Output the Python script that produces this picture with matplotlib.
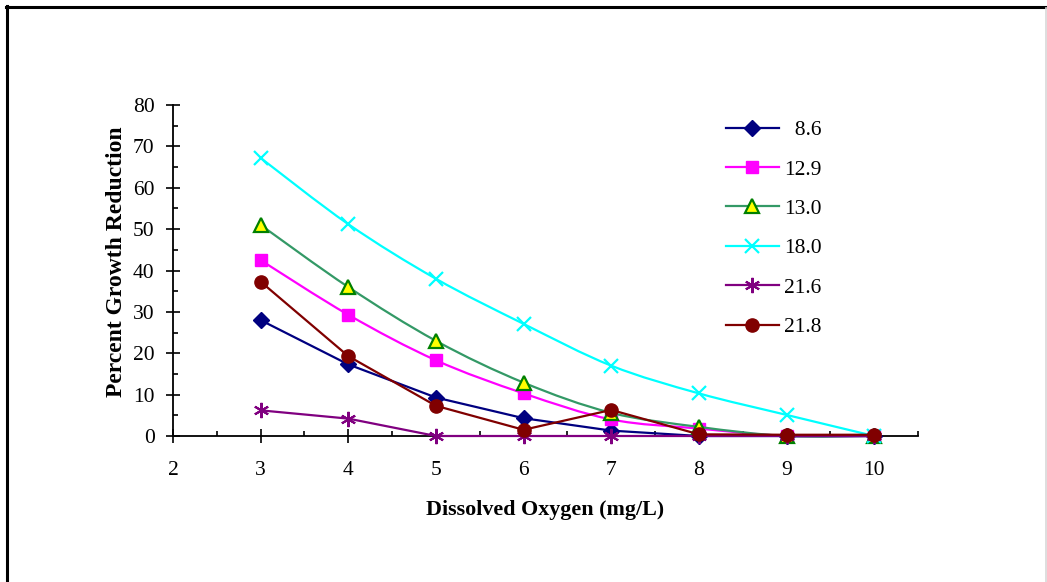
import numpy as np
import matplotlib
matplotlib.use("Agg")
import matplotlib.pyplot as plt
from matplotlib.path import Path
from matplotlib.patches import PathPatch
from matplotlib.lines import Line2D
from matplotlib.ticker import MultipleLocator

plt.rcParams['font.family'] = ['Liberation Serif', 'DejaVu Serif']

# ---- data ----
dissolved_oxygen = [3, 4, 5, 6, 7, 8, 9, 10]
series_labels = ['  8.6', '12.9', '13.0', '18.0', '21.6', '21.8']
s_8_6  = [28.0, 17.3, 9.3, 4.3, 1.3, 0.0, 0.0, 0.0]
s_12_9 = [42.5, 29.3, 18.3, 10.3, 4.0, 1.8, 0.0, 0.0]
s_13_0 = [51.0, 36.0, 23.0, 12.9, 5.6, 2.2, 0.0, 0.0]
s_18_0 = [67.2, 51.2, 38.0, 27.1, 17.0, 10.3, 5.1, 0.0]
s_21_6 = [6.2, 4.2, 0.0, 0.0, 0.0, 0.0, 0.0, 0.0]
s_21_8 = [37.3, 19.3, 7.3, 1.5, 6.3, 0.4, 0.3, 0.3]
x_ticks = [2, 3, 4, 5, 6, 7, 8, 9, 10]
y_ticks = [0, 10, 20, 30, 40, 50, 60, 70, 80]

series = [s_8_6, s_12_9, s_13_0, s_18_0, s_21_6, s_21_8]
smoothed = [False, True, True, True, False, False]
styles = [
    dict(lc='#000080', marker='D', ms=8.3, mfc='#000080', mec='#000080', mew=1.0),
    dict(lc='#FF00FF', marker='s', ms=9.0, mfc='#FF00FF', mec='#FF00FF', mew=1.0),
    dict(lc='#339966', marker='^', ms=9.5, mfc='#FFFF00', mec='#008000', mew=1.6),
    dict(lc='#00FFFF', marker='x', ms=10.0, mfc='#00FFFF', mec='#00FFFF', mew=1.6),
    dict(lc='#800080', marker=(6, 2, 0), ms=11.0, mfc='#800080', mec='#800080', mew=1.5),
    dict(lc='#800000', marker='o', ms=9.5, mfc='#800000', mec='#800000', mew=1.0),
]

W, H = 1047, 582
fig = plt.figure(figsize=(W / 100, H / 100), dpi=100)
ax = fig.add_axes([173 / W, 1 - 436 / H, (918 - 173) / W, (436 - 105) / H])


def smooth_path(xs, ys):
    pts = np.column_stack([xs, ys]).astype(float)
    n = len(pts)
    verts = [tuple(pts[0])]
    codes = [Path.MOVETO]
    for i in range(n - 1):
        p0 = pts[i - 1] if i > 0 else pts[i]
        p3 = pts[i + 2] if i + 2 < n else pts[i + 1]
        c1 = pts[i] + (pts[i + 1] - p0) / 6.0
        c2 = pts[i + 1] - (p3 - pts[i]) / 6.0
        verts += [tuple(c1), tuple(c2), tuple(pts[i + 1])]
        codes += [Path.CURVE4] * 3
    return Path(verts, codes)


handles = []
for i, (vals, st, sm) in enumerate(zip(series, styles, smoothed)):
    if sm:
        patch = PathPatch(smooth_path(dissolved_oxygen, vals), facecolor='none',
                          edgecolor=st['lc'], lw=1.6, zorder=3 + i, clip_on=False,
                          transform=ax.transData)
        ax.add_patch(patch)
    else:
        ax.plot(dissolved_oxygen, vals, color=st['lc'], lw=1.6, zorder=3 + i,
                clip_on=False)
    ax.plot(dissolved_oxygen, vals, ls='none', marker=st['marker'], ms=st['ms'],
            mfc=st['mfc'], mec=st['mec'], mew=st['mew'], zorder=3.5 + i,
            clip_on=False)
    handles.append(Line2D([], [], color=st['lc'], lw=1.6, marker=st['marker'],
                          ms=st['ms'], mfc=st['mfc'], mec=st['mec'], mew=st['mew']))

ax.set_xlim(2, 10.5)
ax.set_ylim(0, 80)
ax.set_xticks(x_ticks)
ax.set_yticks(y_ticks)
ax.xaxis.set_minor_locator(MultipleLocator(0.5))
ax.yaxis.set_minor_locator(MultipleLocator(5))
ax.tick_params(axis='both', which='major', direction='inout', length=9.5,
               width=1.2, labelsize=15.5, colors='black')
ax.tick_params(axis='x', which='major', pad=13.5)
ax.tick_params(axis='y', which='major', pad=8.5)
ax.tick_params(axis='both', which='minor', direction='in', length=3.5, width=1.2)
for side in ['top', 'right']:
    ax.spines[side].set_visible(False)
for side in ['left', 'bottom']:
    ax.spines[side].set_linewidth(1.3)
    ax.spines[side].set_zorder(2)

fig.text(545 / W, 1 - 510 / H, 'Dissolved Oxygen (mg/L)', ha='center', va='center',
         fontsize=15.8, fontweight='bold')
fig.text(117 / W, 1 - 262 / H, 'Percent Growth Reduction', ha='center', va='center',
         rotation=90, fontsize=17, fontweight='bold')

leg = ax.legend(handles, series_labels, loc='upper left',
                bbox_to_anchor=(726 / W, 1 - 120 / H), bbox_transform=fig.transFigure,
                frameon=False, fontsize=15.5, handlelength=2.45, handletextpad=0.25,
                labelspacing=0.9, borderpad=0, borderaxespad=0)

# outer border of the chart area
fig.add_artist(Line2D([7 / W, 7 / W], [0, 1 - 6 / H], transform=fig.transFigure,
                      color='black', lw=2.2))
fig.add_artist(Line2D([6 / W, 1.0], [1 - 7 / H, 1 - 7 / H], transform=fig.transFigure,
                      color='black', lw=2.2))
fig.add_artist(Line2D([1045.5 / W, 1045.5 / W], [0, 1 - 8 / H], transform=fig.transFigure,
                      color='#d8d8d8', lw=1.2))

fig.savefig('out.png', dpi=100)
